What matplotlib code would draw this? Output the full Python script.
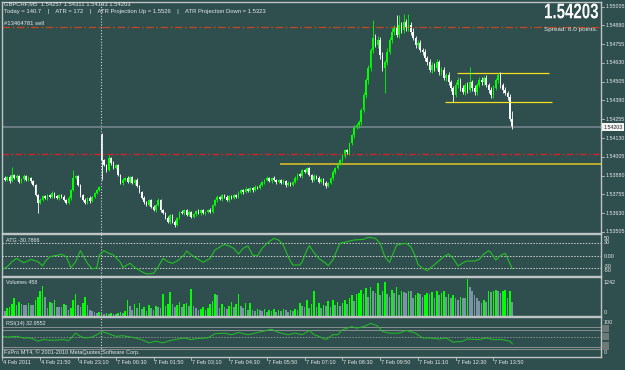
import matplotlib
matplotlib.use("Agg")
import matplotlib.pyplot as plt
from matplotlib.textpath import TextPath
from matplotlib.font_manager import FontProperties
from matplotlib.patches import PathPatch, Rectangle
from matplotlib.transforms import Affine2D

W, H = 625, 370
BG = '#2F4F4F'
FRAME = '#BFC4C4'
TXT = '#E8E8E8'
FONT = 'Liberation Sans'

# ---- data: GBPCHF M5, bar 0 = 4 Feb 20:30, bar 42 = 7 Feb 00:00
closes = [
    1.53864, 1.53851, 1.53871, 1.53844, 1.53884, 1.53864, 1.53877, 1.53838, 1.53857, 1.53877,
    1.53851, 1.53864, 1.53844, 1.53818, 1.53751, 1.53698, 1.53718, 1.53744, 1.53731, 1.53751,
    1.53738, 1.53764, 1.53744, 1.53731, 1.53751, 1.53738, 1.53718, 1.53698, 1.53731, 1.53784,
    1.53864, 1.53877, 1.53818, 1.53751, 1.53718, 1.53698, 1.53731, 1.53711, 1.53738, 1.53764,
    1.53784, 1.53804, 1.53984, 1.53951, 1.53917, 1.53997, 1.53964, 1.53931, 1.53951, 1.53884,
    1.53831, 1.53851, 1.53864, 1.53838, 1.53871, 1.53831, 1.53851, 1.53811, 1.53771, 1.53731,
    1.53705, 1.53685, 1.53718, 1.53671, 1.53651, 1.53685, 1.53718, 1.53651, 1.53631, 1.53598,
    1.53572, 1.53618, 1.53572, 1.53552, 1.53598, 1.53638, 1.53631, 1.53651, 1.53618, 1.53638,
    1.53605, 1.53625, 1.53645, 1.53631, 1.53651, 1.53631, 1.53638, 1.53651, 1.53638, 1.53685,
    1.53718, 1.53738, 1.53724, 1.53751, 1.53738, 1.53718, 1.53744, 1.53731, 1.53751, 1.53738,
    1.53764, 1.53784, 1.53771, 1.53791, 1.53778, 1.53798, 1.53784, 1.53804, 1.53798, 1.53818,
    1.53838, 1.53851, 1.53864, 1.53844, 1.53864, 1.53851, 1.53838, 1.53851, 1.53831, 1.53844,
    1.53818, 1.53831, 1.53818, 1.53838, 1.53864, 1.53891, 1.53877, 1.53917, 1.53904, 1.53931,
    1.53884, 1.53851, 1.53877, 1.53864, 1.53838, 1.53857, 1.53831, 1.53811, 1.53831, 1.53864,
    1.53904, 1.53931, 1.53964, 1.53984, 1.54010, 1.54050, 1.54037, 1.54097, 1.54150, 1.54203,
    1.54217, 1.54237, 1.54316, 1.54416, 1.54516, 1.54596, 1.54715, 1.54795, 1.54749, 1.54782,
    1.54682, 1.54596, 1.54636, 1.54702, 1.54782, 1.54835, 1.54862, 1.54815, 1.54882, 1.54848,
    1.54902, 1.54862, 1.54882, 1.54835, 1.54795, 1.54749, 1.54762, 1.54715, 1.54702, 1.54662,
    1.54636, 1.54582, 1.54616, 1.54596, 1.54636, 1.54569, 1.54582, 1.54529, 1.54549, 1.54503,
    1.54463, 1.54416, 1.54483, 1.54516, 1.54463, 1.54436, 1.54483, 1.54449, 1.54503, 1.54463,
    1.54436, 1.54483, 1.54516, 1.54503, 1.54529, 1.54483, 1.54449, 1.54416, 1.54463, 1.54516,
    1.54549, 1.54483, 1.54449, 1.54429, 1.54403, 1.54257, 1.54203,
]
first_open = 1.53851
gap_bar, gap_open = 42, 1.54150   # Monday open

# wick lengths above / below the body, in points (0.00001)
wick_up = [
    8, 12, 6, 10, 53, 7, 12, 5, 9, 14, 6, 10, 8, 5, 7, 9, 12, 6, 10, 8,
    7, 11, 6, 9, 5, 8, 12, 7, 10, 6, 53, 9, 6, 8, 5, 10, 7, 12, 6, 9,
    8, 10, 13, 9, 7, 20, 8, 11, 6, 9, 7, 10, 8, 12, 6, 9, 7, 11, 5, 8,
    10, 6, 9, 7, 12, 8, 10, 6, 9, 7, 11, 8, 6, 10, 7, 9, 12, 6, 8, 10,
    7, 9, 6, 11, 8, 10, 7, 9, 12, 6, 8, 10, 7, 9, 6, 11, 8, 10, 7, 9,
    12, 6, 8, 10, 7, 9, 6, 11, 8, 10, 7, 9, 12, 6, 8, 10, 7, 9, 6, 11,
    8, 10, 7, 9, 12, 6, 8, 10, 7, 7, 9, 6, 11, 8, 10, 7, 9, 12, 6, 8,
    10, 7, 9, 6, 11, 8, 10, 7, 9, 12, 15, 10, 12, 18, 14, 20, 16, 120, 25, 30,
    18, 22, 15, 28, 20, 25, 18, 86, 66, 22, 53, 20, 73, 18, 25, 15, 22, 18, 12, 20,
    15, 18, 22, 16, 20, 14, 18, 22, 15, 20, 16, 12, 18, 22, 15, 20, 14, 18, 100, 16,
    20, 15, 22, 18, 14, 20, 16, 22, 18, 15, 13, 20, 16, 18, 14, 20, 54,
]
wick_dn = [
    7, 10, 5, 12, 8, 6, 11, 9, 7, 10, 8, 6, 12, 9, 7, 66, 10, 8, 6, 11,
    9, 7, 10, 6, 12, 8, 10, 7, 9, 11, 6, 10, 8, 12, 7, 9, 6, 11, 8, 10,
    7, 9, 133, 8, 10, 6, 12, 9, 7, 10, 8, 11, 6, 9, 10, 7, 12, 8, 9, 6,
    11, 8, 10, 7, 9, 12, 6, 10, 8, 9, 7, 11, 8, 13, 10, 6, 9, 12, 7, 10,
    8, 9, 11, 6, 10, 7, 12, 8, 9, 10, 6, 11, 8, 10, 7, 9, 12, 6, 10, 8,
    9, 7, 11, 8, 10, 6, 12, 9, 7, 10, 8, 11, 6, 9, 10, 7, 12, 8, 9, 6,
    11, 8, 10, 7, 9, 12, 6, 10, 8, 9, 7, 11, 8, 10, 6, 9, 12, 13, 7, 10,
    12, 15, 10, 14, 12, 16, 13, 18, 15, 20, 16, 22, 18, 15, 20, 25, 18, 22, 16, 20,
    25, 18, 166, 22, 16, 20, 18, 15, 22, 18, 16, 20, 18, 22, 15, 20, 18, 16, 22, 20,
    18, 15, 20, 22, 16, 18, 20, 15, 22, 18, 20, 47, 16, 18, 22, 15, 20, 18, 16, 20,
    18, 22, 15, 20, 18, 16, 22, 20, 18, 15, 20, 18, 22, 16, 20, 15, 10,
]

volumes = [
    205, 170, 270, 305, 410, 580, 375, 475, 410, 375, 375, 440, 375, 375, 545, 645, 815, 985, 645, 270,
    475, 440, 545, 305, 305, 305, 410, 375, 205, 270, 545, 715, 375, 305, 440, 645, 375, 205, 170, 135,
    100, 135, 100, 70, 100, 70, 100, 70, 70, 100, 135, 100, 170, 545, 340, 205, 410, 270, 440, 240,
    305, 170, 375, 270, 205, 340, 305, 270, 715, 340, 410, 780, 410, 305, 375, 475, 305, 410, 440, 340,
    885, 340, 270, 205, 240, 305, 205, 270, 410, 510, 715, 680, 270, 410, 305, 240, 340, 475, 305, 410,
    715, 340, 270, 440, 205, 440, 205, 170, 240, 205, 170, 240, 135, 205, 170, 240, 135, 205, 170, 240,
    205, 135, 205, 170, 240, 205, 440, 340, 305, 545, 270, 410, 815, 305, 440, 270, 375, 340, 510, 305,
    545, 375, 475, 340, 440, 545, 410, 610, 680, 510, 715, 750, 850, 715, 920, 645, 950, 815, 750, 1090,
    680, 815, 1120, 715, 645, 850, 750, 950, 680, 815, 780, 750, 815, 815, 610, 680, 750, 715, 645, 680,
    750, 715, 780, 610, 815, 680, 750, 815, 645, 715, 610, 680, 580, 545, 645, 610, 580, 1242, 950, 815,
    680, 580, 510, 440, 545, 475, 815, 780, 815, 850, 815, 750, 815, 850, 580, 815, 458,
]

sto_bar = [0, 2, 4, 6, 7, 9, 11, 12, 15, 17,
           18, 20, 23, 25, 27, 29, 31, 33, 34, 36,
           38, 40, 41, 43, 45, 47, 50, 51, 54, 56,
           59, 61, 64, 66, 68, 70, 72, 74, 77, 78,
           80, 83, 85, 88, 90, 93, 94, 96, 98, 100,
           102, 104, 106, 108, 110, 112, 115, 117, 119, 121,
           123, 126, 127, 129, 130, 132, 134, 137, 138, 140,
           142, 143, 146, 149, 153, 155, 158, 160, 162, 164,
           165, 167, 169, 171, 173, 175, 176, 178, 180, 182,
           185, 187, 189, 191, 193, 196, 197, 200, 202, 204,
           206, 207, 209, 211, 213, 214, 216]
sto_val = [-32.7, -26.3, -14.3, -6.3, -10.3, -16.7, -11.9, -8.7, -14.3, -24.7,
           -14.3, -2.3, 0.9, 3.3, -2.3, -28.7, -14.3, 12.1, 1.7, -18.3,
           -31.9, -28.7, 1.7, 12.1, 5.7, 1.7, -15.9, -27.9, -18.3, -27.9,
           -38.3, -43.9, -42.3, -26.3, -6.3, -14.3, -18.3, -12.7, 1.7, 11.3,
           1.7, -8.7, -15.9, -6.3, 13.7, 24.1, 27.3, 23.3, 17.7, 4.1,
           17.7, 23.3, 1.7, -0.7, 17.7, 29.7, 41.7, 37.7, 25.7, -2.3,
           -22.3, -22.3, -14.3, 13.7, 24.1, 7.3, -6.3, -18.3, -23.9, -10.3,
           17.7, 29.7, 33.7, 37.7, 39.3, 44.1, 41.7, 29.7, -2.3, -15.9,
           -2.3, 25.7, 28.1, 29.7, 21.7, -2.3, -20.7, -30.3, -35.9, -26.3,
           -11.9, -2.3, 4.1, -6.3, -24.7, -14.3, -12.7, -12.7, -8.7, 4.1,
           12.1, 7.3, -10.3, 0.1, 5.7, -6.3, -30.7866]
sto_levels = [30, 0, -30]

rsi_bar = [0, 2, 6, 9, 12, 15, 17, 21, 26, 28,
           31, 33, 35, 38, 40, 42, 45, 48, 51, 55,
           59, 62, 65, 68, 71, 73, 77, 80, 83, 87,
           90, 94, 97, 100, 104, 107, 110, 114, 117, 121,
           124, 127, 130, 132, 134, 137, 140, 142, 144, 148,
           150, 153, 156, 159, 161, 164, 168, 171, 175, 178,
           181, 185, 188, 191, 195, 197, 202, 205, 208, 212,
           215, 216]
rsi_val = [51.6, 50.0, 51.6, 47.5, 47.5, 39.4, 43.5, 41.8, 43.5, 41.0,
           59.7, 51.6, 47.5, 50.0, 55.7, 63.8, 58.1, 51.6, 53.2, 49.2,
           43.5, 35.3, 39.4, 35.3, 41.0, 43.5, 47.5, 43.5, 46.7, 47.5,
           58.1, 59.7, 55.7, 61.3, 55.7, 59.7, 63.8, 69.5, 61.3, 55.7,
           59.7, 55.7, 66.2, 55.7, 51.6, 43.5, 55.7, 55.7, 67.9, 76.0,
           71.9, 76.0, 84.1, 77.6, 63.8, 59.7, 59.7, 66.2, 59.7, 47.5,
           47.5, 45.1, 47.5, 37.0, 39.4, 45.1, 43.5, 47.5, 43.5, 43.5,
           39.4, 32.9552]
rsi_levels = [76, 68, 26, 20]

price_ticks = ['1.55005', '1.54880', '1.54755', '1.54630', '1.54505', '1.54380', '1.54255',
               '1.54130', '1.54005', '1.53880', '1.53755', '1.53630', '1.53505']
bid = 1.54203
order_price = 1.54868      # #13464781 sell
red_level = 1.54024
hlines = [  # (price, from bar, to bar, colour, width)
    (1.53954, 117.6, 253.6, '#C9B22C', 1.3),
    (1.54560, 192.6, 231.6, '#F2E01A', 0.9),
    (1.54370, 187.5, 232.8, '#F2E01A', 0.9),
]
separator_bar = 41.8
time_bars = [0, 16, 32, 48, 64, 80, 96, 112, 128, 144, 160, 176, 192, 208]
time_labels = ['4 Feb 2011', '4 Feb 21:50', '4 Feb 23:10', '7 Feb 00:30', '7 Feb 01:50',
               '7 Feb 03:10', '7 Feb 04:30', '7 Feb 05:50', '7 Feb 07:10', '7 Feb 08:30',
               '7 Feb 09:50', '7 Feb 11:10', '7 Feb 12:30', '7 Feb 13:50']

n = len(closes)
xs = list(range(n))
opens = [first_open] + closes[:-1]
opens[gap_bar] = gap_open
highs = [max(o, c) + u * 1e-5 for o, c, u in zip(opens, closes, wick_up)]
lows = [min(o, c) - d * 1e-5 for o, c, d in zip(opens, closes, wick_dn)]
ccol = ['#00FF00' if c >= o else '#FFFFFF' for o, c in zip(opens, closes)]

fig = plt.figure(figsize=(W / 100, H / 100), dpi=100, facecolor=BG)


def panel(top, bottom):
    ax = fig.add_axes([2 / W, 1 - bottom / H, 599 / W, (bottom - top) / H])
    ax.set_facecolor(BG)
    ax.set_xlim(-0.21, 253.6)
    ax.set_xticks([])
    ax.set_yticks([])
    for s in ax.spines.values():
        s.set_color(FRAME)
        s.set_linewidth(1.0)
    ax.axvline(separator_bar, color='#D8D8D8', lw=0.8, ls=(0, (1, 1.6)))
    return ax


def ftext(x, y, s, **kw):
    kw.setdefault('fontsize', 3.9)
    kw.setdefault('color', TXT)
    kw.setdefault('family', FONT)
    kw.setdefault('va', 'center')
    fig.text(x / W, 1 - y / H, s, **kw)


# ---- main price panel
ax = panel(2, 233)
ax.set_ylim(1.53498, 1.55035)
ax.axhline(order_price, color='#C8461E', lw=0.9, ls=(0, (6, 2, 1.5, 2)))
ax.axhline(red_level, color='#E02020', lw=0.9, ls=(0, (5, 2, 1.5, 2)))
ax.axhline(bid, color='#73858C', lw=1.2)
for p, x0, x1, c, lw in hlines:
    ax.plot([x0, x1], [p, p], color=c, lw=lw, solid_capstyle='butt')
ax.vlines(xs, lows, highs, colors=ccol, lw=0.6)
ax.bar(xs, [max(abs(c - o), 0.00003) for o, c in zip(opens, closes)],
       bottom=[min(o, c) for o, c in zip(opens, closes)], width=0.7, color=ccol, linewidth=0)

ytr = ax.get_yaxis_transform()
for s in price_ticks:
    p = float(s)
    ax.text(1.007, p, s, transform=ytr, fontsize=3.8, color=TXT, family=FONT, va='center')
    ax.plot([1.0, 1.005], [p, p], transform=ytr, color=FRAME, lw=0.6, clip_on=False)

# current price box
fig.add_artist(Rectangle((602 / W, 1 - 131 / H), 22 / W, 8 / H, transform=fig.transFigure,
                         facecolor='#F4F4F4', edgecolor='none'))
ftext(604, 127, '1.54203', color='#202020', fontsize=3.8)

ftext(4, 4, 'GBPCHF,M5  1.54257 1.54311 1.54193 1.54203', fontsize=4.2)
ftext(4, 12, 'Today = 140.7    |    ATR = 172    |    ATR Projection Up = 1.5526    |    '
             'ATR Projection Down = 1.5323', fontsize=4.2)
ftext(4, 23.5, '#13464781 sell', fontsize=4.2)
ftext(598, 30, 'Spread: 6.0 points.', ha='right', fontsize=4.6)

# big bid price, condensed bold
tp = TextPath((0, 0), '1.54203', size=1, prop=FontProperties(family=FONT, weight='bold'))
bb = tp.get_extents()
sx, sy = 53 / bb.width, 15 / bb.height
tr = Affine2D().translate(-bb.x0, -bb.y0).scale(sx, sy).translate(545, H - 18.5)
fig.add_artist(PathPatch(tr.transform_path(tp), facecolor='white', edgecolor='none',
                         transform=None))

# ---- oscillator panel
ax2 = panel(234, 276)
ax2.set_ylim(-48.7, 52.1)
for lv in sto_levels:
    ax2.axhline(lv, color='#D0D0D0', lw=0.7, ls=(0, (1.5, 1.5)))
ax2.plot(sto_bar, sto_val, color='#22C022', lw=0.8)
ftext(6, 241, 'ATG -30.7866')
ftext(604, 239, '50')
ftext(604, 243, '30')
ftext(604, 256, '0.00')
ftext(604, 267, '-30')
ftext(604, 270.5, '-50')

# ---- volumes panel
ax3 = panel(277, 316)
ax3.set_ylim(0, 1292)
vcol = ['#00FF00' if i > 0 and volumes[i] > volumes[i - 1] else '#7A94A6' for i in range(n)]
ax3.bar(xs, volumes, width=0.7, color=vcol, linewidth=0)
ftext(6, 283, 'Volumes 458')
ftext(604, 282, '1242')
ftext(604, 312, '0')

# ---- RSI panel
ax4 = panel(317, 357)
ax4.set_ylim(0, 100)
for lv in rsi_levels:
    ax4.axhline(lv, color='#8A9090', lw=0.7)
ax4.axhline(50, color='#8A9090', lw=0.7, ls=(0, (1.5, 1.5)))
ax4.plot(rsi_bar, rsi_val, color='#22C022', lw=0.7)
for y0, y1 in [(325, 332), (333, 340), (342, 350)]:
    fig.add_artist(Rectangle((602 / W, 1 - y1 / H), 7 / W, (y1 - y0) / H, transform=fig.transFigure,
                             facecolor='#6E7A7A', edgecolor='none'))
ftext(6, 324, 'RSI(14) 32.9552')
ftext(4, 352, 'FxPro MT4, © 2001-2010 MetaQuotes Software Corp.', fontsize=4.1)
ftext(604, 322, '100')
ftext(604, 353, '0')

xtr = ax4.get_xaxis_transform()
for b, s in zip(time_bars, time_labels):
    ax4.plot([b, b], [0, -0.08], transform=xtr, color=FRAME, lw=0.6, clip_on=False)
    ax4.text(b + 0.4, -0.15, s, transform=xtr, fontsize=4.0, color=TXT, family=FONT,
             va='center', ha='left')

fig.savefig('out.png', dpi=100, facecolor=BG)
